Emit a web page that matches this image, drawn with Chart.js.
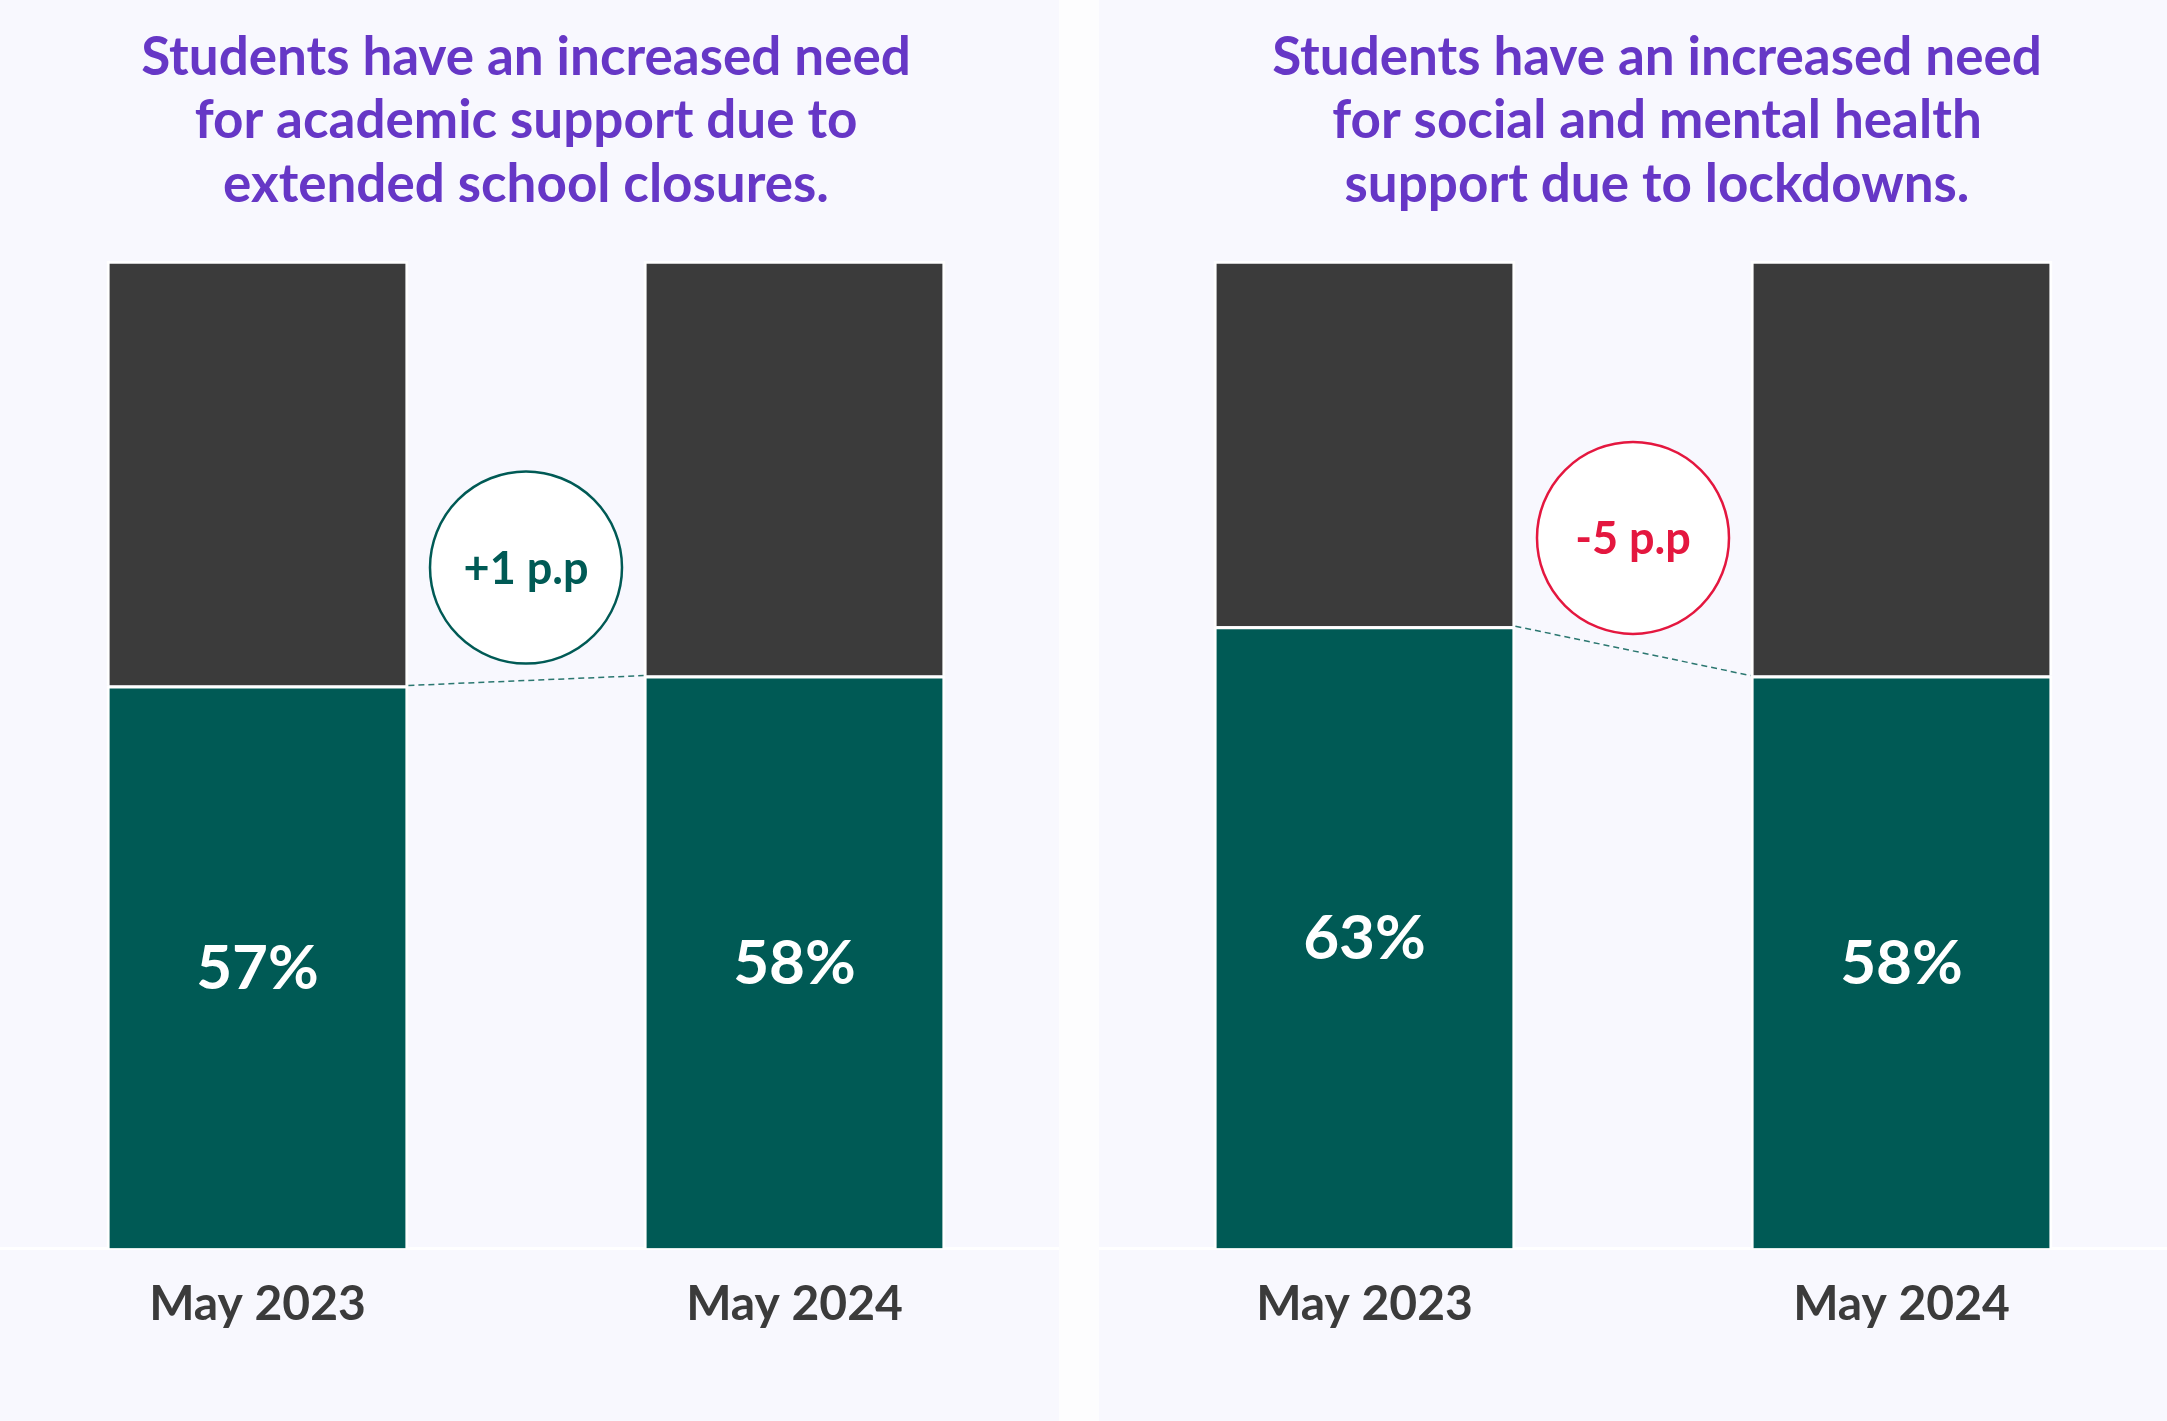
<!DOCTYPE html>
<html>
<head>
<meta charset="utf-8">
<script src="https://cdn.jsdelivr.net/npm/chart.js@4.4.1/dist/chart.umd.min.js"></script>
<style>
  body { margin: 0; width: 2167px; height: 1421px; background: #fdfdfe; overflow: hidden; }
  .panel { position: absolute; top: 0; height: 1421px; background: #f8f8fe; overflow: hidden; }
  #p1 { left: 0; width: 1059px; }
  #p2 { left: 1099px; width: 1068px; }
  .box { position: absolute; top: 0; height: 1421px; }
  #p1 .box { left: -11px; width: 1074px; }
  #p2 .box { left: -3px; width: 1122px; }
</style>
</head>
<body>
<div class="panel" id="p1"><div class="box"><canvas id="c1"></canvas></div></div>
<div class="panel" id="p2"><div class="box"><canvas id="c2"></canvas></div></div>
<script>
const categories = ["May 2023", "May 2024"];

const academicYes = [57, 58];
const academicRest = [43, 42];
const academicTitle = ["Students have an increased need", "for academic support due to", "extended school closures."];
const academicDelta = "+1 p.p";

const socialYes = [63, 58];
const socialRest = [37, 42];
const socialTitle = ["Students have an increased need", "for social and mental health", "support due to lockdowns."];
const socialDelta = "-5 p.p";

const GREEN = "#005a55";
const GREY = "#3b3b3b";
const PURPLE = "#6637c6";
const RED = "#e4173f";

// labels in the bars, dashed link and the change bubble
const overlay = {
    id: "overlay",
    afterDatasetsDraw(chart, args, opts) {
        const ctx = chart.ctx;
        const meta = chart.getDatasetMeta(0);
        const vals = chart.data.datasets[0].data;
        ctx.save();

        ctx.fillStyle = "#fff";
        ctx.font = "bold 62px Lato";
        ctx.textAlign = "center";
        ctx.textBaseline = "middle";
        meta.data.forEach((bar, i) => {
            ctx.fillText(vals[i] + "%", bar.x, (bar.y + bar.base) / 2 + 2);
        });

        const b0 = meta.data[0], b1 = meta.data[1];
        const x0 = b0.x + b0.width / 2, x1 = b1.x - b1.width / 2;
        ctx.setLineDash([6, 4]);
        ctx.strokeStyle = "#2b7770";
        ctx.lineWidth = 1.5;
        ctx.beginPath();
        ctx.moveTo(x0, b0.y);
        ctx.lineTo(x1, b1.y);
        ctx.stroke();

        const cx = (b0.x + b1.x) / 2;
        const cy = (b0.y + b1.y) / 2 - 113;
        ctx.setLineDash([]);
        ctx.beginPath();
        ctx.arc(cx, cy, 96, 0, Math.PI * 2);
        ctx.fillStyle = "#fff";
        ctx.fill();
        ctx.strokeStyle = opts.color;
        ctx.lineWidth = 2.5;
        ctx.stroke();

        ctx.fillStyle = opts.color;
        ctx.font = "bold 45px Lato";
        ctx.fillText(opts.text, cx, cy + 2);
        ctx.restore();
    }
};

// titleShift: empty room kept right of the bars so the (full width) title sits a bit right
function makeChart(id, yes, rest, title, delta, deltaColor, titleShift) {
    return new Chart(document.getElementById(id), {
        type: "bar",
        data: {
            labels: categories,
            datasets: [
                {
                    data: yes,
                    backgroundColor: GREEN,
                    borderColor: "#fff",
                    borderWidth: { top: 3, left: 3, right: 3, bottom: 0 },
                    borderSkipped: false
                },
                {
                    data: rest,
                    backgroundColor: GREY,
                    borderColor: "#fff",
                    borderWidth: { top: 3, left: 3, right: 3, bottom: 0 },
                    borderSkipped: false
                }
            ]
        },
        options: {
            responsive: true,
            maintainAspectRatio: false,
            animation: false,
            layout: { padding: { top: 0, bottom: 69, left: 0, right: 0 } },
            datasets: { bar: { categoryPercentage: 1, barPercentage: 0.562 } },
            scales: {
                x: {
                    stacked: true,
                    grid: { display: false },
                    border: { display: true, color: "#fff", width: 3 },
                    ticks: {
                        padding: 19,
                        color: GREY,
                        font: { family: "Lato", weight: "bold", size: 48 }
                    }
                },
                y: {
                    stacked: true, min: 0, max: 100,
                    display: titleShift > 0,
                    position: "right",
                    grid: { display: false },
                    border: { display: false },
                    ticks: { display: false },
                    afterFit: s => { s.width = titleShift * 2; }
                }
            },
            plugins: {
                legend: { display: false },
                tooltip: { enabled: false },
                title: {
                    display: true,
                    text: title,
                    color: PURPLE,
                    font: { family: "Lato", weight: "bold", size: 53, lineHeight: 1.2 },
                    padding: { top: 26, bottom: 44 }
                },
                overlay: { text: delta, color: deltaColor }
            }
        },
        plugins: [overlay]
    });
}

makeChart("c1", academicYes, academicRest, academicTitle, academicDelta, GREEN, 0);
makeChart("c2", socialYes, socialRest, socialTitle, socialDelta, RED, 24);
</script>
</body>
</html>
